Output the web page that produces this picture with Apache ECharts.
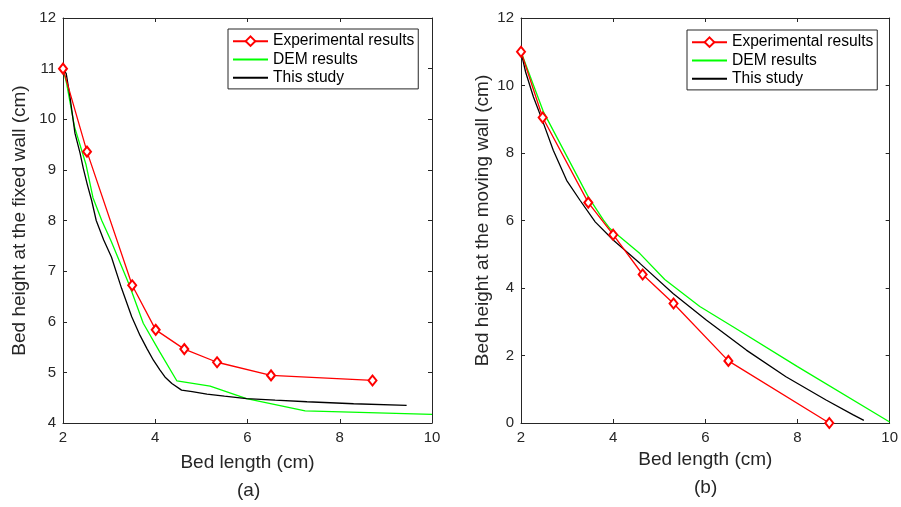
<!DOCTYPE html>
<html>
<head>
<meta charset="utf-8">
<script src="https://cdn.jsdelivr.net/npm/echarts@6/dist/echarts.min.js"></script>
<style>html,body{margin:0;padding:0;background:#fff;}#c{width:901px;height:507px;}</style>
</head>
<body>
<div id="c"></div>
<script>
// ---- Data ----
var seriesNames = ['Experimental results', 'DEM results', 'This study'];
var xTicksA = [2, 4, 6, 8, 10];
var yTicksA = [4, 5, 6, 7, 8, 9, 10, 11, 12];
var yTicksB = [0, 2, 4, 6, 8, 10, 12];

// (a) fixed wall
var expAx = [2, 2.52, 3.5, 4.01, 4.63, 5.34, 6.51, 8.71];
var expAy = [11, 9.36, 6.72, 5.84, 5.46, 5.2, 4.94, 4.84];
var demAx = [2, 2.08, 2.25, 2.5, 2.65, 2.84, 3.04, 3.44, 3.74, 4.1, 4.47, 5.19, 5.98, 7.25, 10];
var demAy = [11, 10.7, 9.85, 9.1, 8.45, 8.0, 7.6, 6.72, 5.97, 5.4, 4.83, 4.73, 4.48, 4.24, 4.17];
var thisAx = [2, 2.07, 2.15, 2.26, 2.37, 2.44, 2.53, 2.62, 2.72, 2.88, 3.05, 3.27, 3.49, 3.67, 3.82, 3.96, 4.1, 4.21, 4.36, 4.57, 4.8, 5.12, 5.5, 5.98, 6.6, 7.29, 8.3, 9.45];
var thisAy = [11, 10.9, 10.45, 9.72, 9.33, 9.03, 8.7, 8.4, 8.0, 7.62, 7.28, 6.66, 6.1, 5.73, 5.47, 5.24, 5.05, 4.91, 4.78, 4.65, 4.62, 4.57, 4.53, 4.48, 4.45, 4.42, 4.38, 4.35];

// (b) moving wall
var expBx = [2, 2.47, 3.46, 4.0, 4.64, 5.31, 6.5, 8.69];
var expBy = [11, 9.05, 6.53, 5.58, 4.4, 3.54, 1.84, 0];
var demBx = [2, 2.49, 3.46, 3.79, 3.93, 4.58, 5.12, 5.88, 6.6, 8, 10];
var demBy = [11, 9.21, 6.7, 6.01, 5.76, 5.02, 4.25, 3.45, 2.85, 1.67, 0.03];
var thisBx = [2, 2.1, 2.27, 2.49, 2.7, 2.99, 3.28, 3.61, 4.0, 4.58, 5.3, 6.02, 6.89, 7.75, 8.62, 9.2, 9.44];
var thisBy = [11, 10.4, 9.66, 8.87, 8.08, 7.19, 6.6, 5.96, 5.42, 4.73, 3.84, 3.05, 2.16, 1.37, 0.68, 0.25, 0.08];

function zip(xs, ys) { return xs.map(function (x, i) { return [x, ys[i]]; }); }

var FONT = 'Liberation Sans, Arial, sans-serif';
var AX = '#262626';

function xAx(grid, pos, ticks, name, gap) {
  return {
    type: 'value', gridIndex: grid, position: pos,
    min: ticks[0], max: ticks[ticks.length - 1], interval: ticks[1] - ticks[0],
    name: pos === 'bottom' ? name : '', nameLocation: 'middle', nameGap: gap,
    nameTextStyle: { fontFamily: FONT, fontSize: 19, color: AX },
    axisLine: { show: true, onZero: false, lineStyle: { color: AX, width: 1 } },
    axisTick: { show: true, inside: true, length: 4, lineStyle: { color: AX } },
    axisLabel: { show: pos === 'bottom', margin: 7, fontFamily: FONT, fontSize: 15, color: AX },
    splitLine: { show: false }
  };
}
function yAx(grid, pos, ticks, name, gap) {
  return {
    type: 'value', gridIndex: grid, position: pos,
    min: ticks[0], max: ticks[ticks.length - 1], interval: ticks[1] - ticks[0],
    name: pos === 'left' ? name : '', nameLocation: 'middle', nameGap: gap,
    nameTextStyle: { fontFamily: FONT, fontSize: 19, color: AX },
    axisLine: { show: true, onZero: false, lineStyle: { color: AX, width: 1 } },
    axisTick: { show: true, inside: true, length: 4, lineStyle: { color: AX } },
    axisLabel: { show: pos === 'left', margin: 7, fontFamily: FONT, fontSize: 15, color: AX },
    splitLine: { show: false }
  };
}

function legendAt(left, top) {
  return {
    left: left, top: top, orient: 'vertical',
    data: [
      { name: seriesNames[0] },
      { name: seriesNames[1], itemStyle: { opacity: 0 } },
      { name: seriesNames[2], itemStyle: { opacity: 0 } }
    ],
    backgroundColor: '#fff', borderColor: AX, borderWidth: 1,
    padding: [3, 4, 2, 4], itemGap: 0, itemWidth: 35, itemHeight: 12,
    textStyle: { fontFamily: FONT, fontSize: 15.6, color: '#000', lineHeight: 18.3 },
    selectedMode: false
  };
}

function lineS(name, xi, yi, data, color, withSym) {
  return {
    name: name, type: 'line', xAxisIndex: xi, yAxisIndex: yi, data: data,
    symbol: withSym ? 'emptyDiamond' : 'none', symbolSize: [8, 10], showSymbol: withSym,
    lineStyle: { color: color, width: 1.3 },
    itemStyle: withSym ? { color: color, borderWidth: 1.2 } : { color: color, opacity: 0 },
    animation: false, z: withSym ? 4 : 3
  };
}

var chart = echarts.init(document.getElementById('c'), null, { renderer: 'canvas' });
chart.setOption({
  backgroundColor: '#fff',
  animation: false,
  grid: [
    { left: 63, top: 18, width: 369, height: 405 },
    { left: 521, top: 18, width: 370, height: 405 }
  ],
  xAxis: [
    xAx(0, 'bottom', xTicksA, 'Bed length (cm)', 30),
    xAx(0, 'top', xTicksA, '', 0),
    xAx(1, 'bottom', xTicksA, 'Bed length (cm)', 26),
    xAx(1, 'top', xTicksA, '', 0)
  ],
  yAxis: [
    yAx(0, 'left', yTicksA, 'Bed height at the fixed wall (cm)', 34),
    yAx(0, 'right', yTicksA, '', 0),
    yAx(1, 'left', yTicksB, 'Bed height at the moving wall (cm)', 29),
    yAx(1, 'right', yTicksB, '', 0)
  ],
  legend: [legendAt(228, 29), legendAt(687, 30)],
  series: [
    lineS(seriesNames[1], 0, 0, zip(demAx, demAy), '#00ff00', false),
    lineS(seriesNames[2], 0, 0, zip(thisAx, thisAy), '#000000', false),
    lineS(seriesNames[0], 0, 0, zip(expAx, expAy), '#ff0000', true),
    lineS(seriesNames[1], 2, 2, zip(demBx, demBy), '#00ff00', false),
    lineS(seriesNames[2], 2, 2, zip(thisBx, thisBy), '#000000', false),
    lineS(seriesNames[0], 2, 2, zip(expBx, expBy), '#ff0000', true)
  ],
  graphic: [
    { type: 'text', left: 247 - 10, top: 481, style: { text: '(a)', fontFamily: FONT, fontSize: 19, fill: AX } },
    { type: 'text', left: 705 - 11, top: 478, style: { text: '(b)', fontFamily: FONT, fontSize: 19, fill: AX } }
  ]
});
</script>
</body>
</html>
